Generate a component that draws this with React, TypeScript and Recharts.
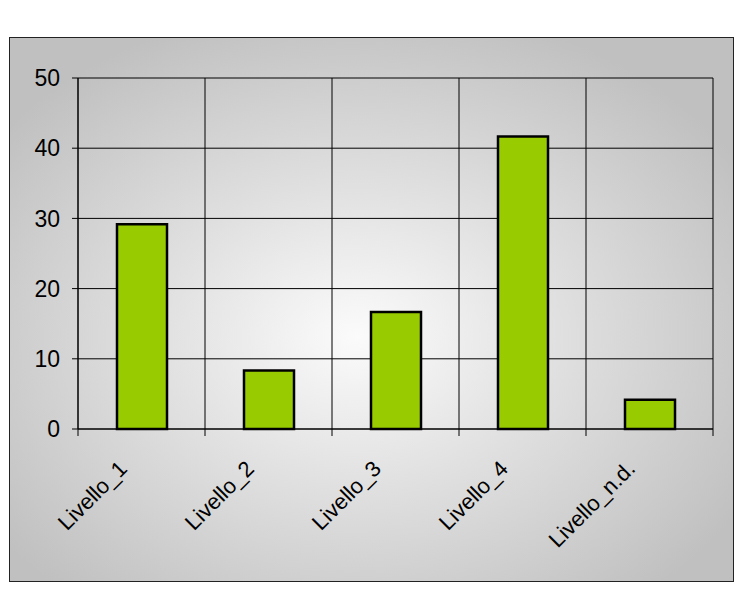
import { BarChart, Bar, XAxis, YAxis, CartesianGrid } from "recharts";

const categories = ["Livello_1", "Livello_2", "Livello_3", "Livello_4", "Livello_n.d."];
const values = [29.17, 8.33, 16.67, 41.67, 4.17];
const yTicks = [0, 10, 20, 30, 40, 50];

const data = categories.map((name, i) => ({ name, value: values[i] }));

const FONT = "'Liberation Sans', Arial, sans-serif";

// rotated label + tick marks on the category boundaries (Excel style)
const AngledTick = (props: any) => {
  const { x, y, payload, index } = props;
  const half = payload && payload.offset ? payload.offset : 63.5;
  const top = y - 14; // axis line (tickSize 6 + tickMargin 8)
  return (
    <g>
      <line x1={x - half} x2={x - half} y1={top} y2={top + 7} stroke="#000" />
      {index === categories.length - 1 && (
        <line x1={x + half} x2={x + half} y1={top} y2={top + 7} stroke="#000" />
      )}
      <g transform={`translate(${x - 13},${y + 27})`}>
        <text
          x={0}
          y={0}
          textAnchor="end"
          transform="rotate(-45)"
          fill="#000"
          fontSize={22}
          fontFamily={FONT}
        >
          {payload.value}
        </text>
      </g>
    </g>
  );
};

export default function App() {
  return (
    <div style={{ position: "absolute", left: 0, top: 0, width: 744, height: 594 }}>
      <div
        style={{
          position: "absolute",
          left: 9,
          top: 37,
          width: 723,
          height: 543,
          border: "1px solid #222",
          background:
            "radial-gradient(ellipse 62% 62% at 48% 55%, #fbfbfb 0%, #e0e0e0 45%, #c0c0c0 100%)",
        }}
      />
      <div style={{ position: "absolute", left: 0, top: 0 }}>
        <BarChart
          width={744}
          height={594}
          data={data}
          margin={{ top: 78, right: 31, left: 18, bottom: 45 }}
        >
          <CartesianGrid
            stroke="#000"
            strokeWidth={1}
            horizontalValues={yTicks}
            verticalCoordinatesGenerator={({ offset }: any) =>
              categories
                .concat([""])
                .map((_, i) => offset.left + (i * offset.width) / categories.length)
            }
          />
          <XAxis
            dataKey="name"
            height={120}
            axisLine={{ stroke: "#000" }}
            tickLine={false}
            tickMargin={8}
            interval={0}
            tick={<AngledTick />}
          />
          <YAxis
            domain={[0, 50]}
            ticks={yTicks}
            width={60}
            tickSize={6}
            tickMargin={12}
            axisLine={{ stroke: "#000" }}
            tickLine={{ stroke: "#000" }}
            tick={{ fill: "#000", fontSize: 23, fontFamily: FONT }}
          />
          <Bar
            dataKey="value"
            fill="#99cc00"
            stroke="#000"
            strokeWidth={2.5}
            barSize={50}
            isAnimationActive={false}
          />
        </BarChart>
      </div>
    </div>
  );
}
